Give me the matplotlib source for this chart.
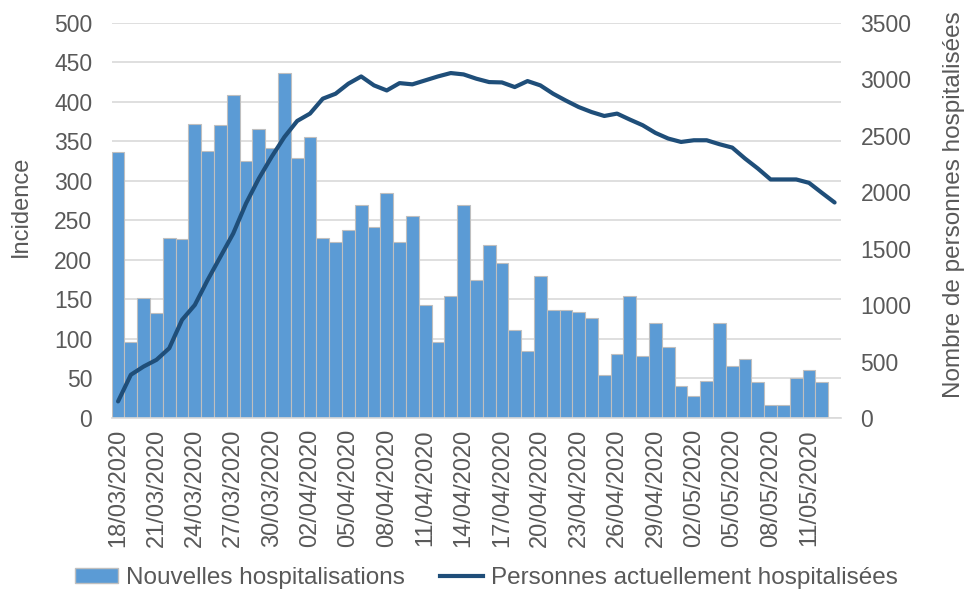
import numpy as np
import pandas as pd
import matplotlib
matplotlib.use("Agg")
import matplotlib.pyplot as plt
from matplotlib.patches import Patch
from matplotlib.lines import Line2D

plt.rcParams['font.family'] = ['Liberation Sans', 'DejaVu Sans']

# daily data, 18/03/2020 -> 13/05/2020
dates = pd.date_range("2020-03-18", "2020-05-13", freq="D")

nouvelles = [337, 96, 152, 133, 228, 226, 372, 338, 370, 408,
             325, 366, 342, 436, 329, 355, 228, 223, 238, 270,
             242, 285, 223, 255, 143, 96, 154, 270, 174, 219,
             196, 111, 85, 179, 136, 136, 134, 126, 54, 81,
             154, 79, 120, 90, 41, 28, 47, 120, 66, 75,
             45, 17, 17, 50, 61, 45, np.nan]

hospitalises = [147, 383, 456, 515, 618, 869, 1001, 1222, 1428, 1634,
                1900, 2120, 2312, 2488, 2630, 2695, 2827, 2871, 2960, 3024,
                2945, 2900, 2965, 2954, 2989, 3024, 3054, 3042, 3004, 2974,
                2971, 2930, 2983, 2945, 2871, 2810, 2753, 2709, 2674, 2695,
                2642, 2592, 2524, 2474, 2444, 2459, 2459, 2424, 2394, 2297,
                2209, 2112, 2112, 2112, 2082, 1994, 1908]

label_step = 3
txt = "#595959"
bar_col = "#5b9bd5"
line_col = "#1f4e79"
grid_col = "#d9d9d9"

fig = plt.figure(figsize=(9.66, 5.92), dpi=100)
ax = fig.add_axes([0.1156, 0.2939, 0.755, 0.6678])
x = np.arange(len(dates))

ax.bar(x, nouvelles, width=1.0, color=bar_col, edgecolor="#bfbfbf", linewidth=0.8, zorder=2)
ax.set_xlim(-0.5, len(dates) - 0.5)
ax.set_ylim(0, 500)
ax.set_yticks(np.arange(0, 501, 50))
ax.yaxis.grid(True, color=grid_col, linewidth=1.2, zorder=0)
ax.set_axisbelow(True)

ax2 = ax.twinx()
ax2.plot(x, hospitalises, color=line_col, linewidth=3, solid_capstyle="round", zorder=3)
ax2.set_ylim(0, 3500)
ax2.set_yticks(np.arange(0, 3501, 500))

ax.set_xticks(x[::label_step])
ax.set_xticklabels([d.strftime("%d/%m/%Y") for d in dates[::label_step]], rotation=90)

for a in (ax, ax2):
    for s in a.spines.values():
        s.set_visible(False)
    a.tick_params(length=0, colors=txt, labelsize=16.5)
ax.spines['bottom'].set_visible(True)
ax.spines['bottom'].set_color(grid_col)
ax.spines['bottom'].set_linewidth(1.2)
ax.tick_params(axis='x', labelsize=17, pad=8)
ax.tick_params(axis='y', pad=14)
ax2.tick_params(axis='y', pad=14)

ax.set_ylabel("Incidence", color=txt, fontsize=17)
ax2.set_ylabel("Nombre de personnes hospitalisées", color=txt, fontsize=17.5)
ax.yaxis.set_label_coords(-0.109, 0.536)
ax2.yaxis.set_label_coords(1.140, 0.541)

handles = [Patch(facecolor=bar_col, edgecolor="#bfbfbf"),
           Line2D([0], [0], color=line_col, linewidth=3)]
fig.legend(handles, ["Nouvelles hospitalisations", "Personnes actuellement hospitalisées"],
           loc="center", bbox_to_anchor=(0.5036, 0.0236), ncol=2, frameon=False,
           fontsize=17.5, labelcolor=txt, handlelength=1.75, handleheight=0.55,
           handletextpad=0.33, columnspacing=1.45, borderpad=0)

fig.savefig("out.png", dpi=100)
